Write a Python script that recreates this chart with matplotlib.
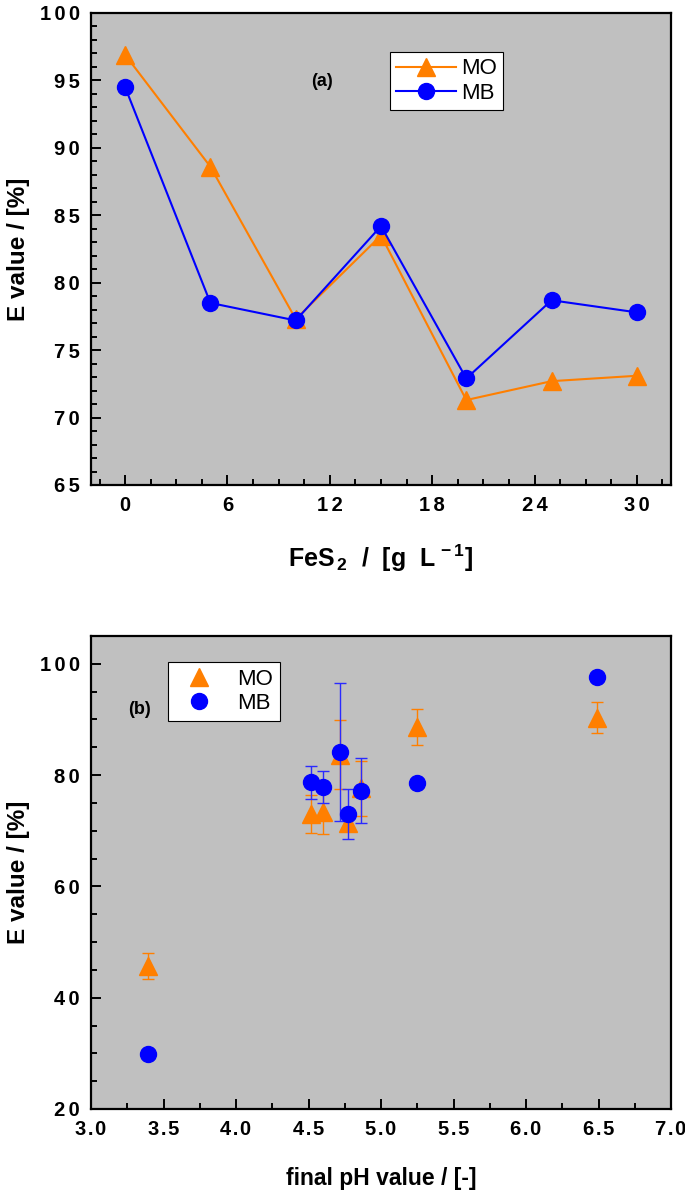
import matplotlib
matplotlib.use("Agg")
import matplotlib.pyplot as plt
from matplotlib.ticker import MultipleLocator, FuncFormatter
from matplotlib.lines import Line2D

plt.rcParams['font.family'] = ['Liberation Sans', 'DejaVu Sans']
plt.rcParams['mathtext.fontset'] = 'custom'
plt.rcParams['mathtext.rm'] = 'Liberation Sans:bold'
plt.rcParams['mathtext.bf'] = 'Liberation Sans:bold'
plt.rcParams['mathtext.it'] = 'Liberation Sans:bold'

# ---- data panel (a)
fes2 = [0, 5, 10, 15, 20, 25, 30]
mo_a = [96.9, 88.6, 77.3, 83.5, 71.3, 72.7, 73.1]
mb_a = [94.5, 78.5, 77.2, 84.2, 72.9, 78.7, 77.8]

# ---- data panel (b)
ph_mo = [3.39, 4.52, 4.60, 4.72, 4.77, 4.86, 5.25, 6.49]
mo_b = [45.7, 73.0, 73.3, 83.7, 71.4, 77.6, 88.7, 90.3]
mo_err = [2.4, 3.4, 3.8, 6.2, 1.5, 4.9, 3.2, 2.8]
ph_mb = [3.39, 4.52, 4.60, 4.72, 4.77, 4.86, 5.25, 6.49]
mb_b = [29.8, 78.7, 77.8, 84.2, 73.0, 77.2, 78.5, 97.6]
mb_err = [0.0, 3.0, 2.9, 12.4, 4.5, 5.8, 0.0, 0.0]

ORANGE = '#ff7f00'
BLUE = '#0000ff'
EBLUE = '#2a2aff'
BG = '#c0c0c0'
TS = '\u2006'


def spaced(fmt, sep=TS):
    return FuncFormatter(lambda v, p: sep.join(fmt % v))


fig = plt.figure(figsize=(6.85, 11.98), dpi=100)
W, H = 685, 1198
axa = fig.add_axes([91 / W, 1 - 485 / H, (671 - 91) / W, (485 - 13) / H])
axb = fig.add_axes([91 / W, 1 - 1109 / H, (671 - 91) / W, (1109 - 636) / H])

for ax in (axa, axb):
    ax.set_facecolor(BG)
    for s in ax.spines.values():
        s.set_linewidth(1.6)
    ax.tick_params(which='both', direction='in', top=False, right=False, width=1.4)
    ax.tick_params(which='major', length=7, pad=8, labelsize=14.5)
    ax.tick_params(which='minor', length=4)

# ---- panel (a)
axa.plot(fes2, mo_a, color=ORANGE, lw=1.5, marker='^', ms=13, label='MO', zorder=3)
axa.plot(fes2, mb_a, color=BLUE, lw=1.5, marker='o', ms=11.5, label='MB', zorder=4)
axa.set_xlim(-2, 32)
axa.set_ylim(65, 100)
axa.xaxis.set_major_locator(MultipleLocator(6))
axa.xaxis.set_minor_locator(MultipleLocator(1.5))
axa.yaxis.set_major_locator(MultipleLocator(5))
axa.yaxis.set_minor_locator(MultipleLocator(1))
axa.xaxis.set_major_formatter(spaced('%d'))
axa.yaxis.set_major_formatter(spaced('%d'))
axa.set_xlabel(r'FeS$_{\,2}$  /  [g  L$^{\,-1}$]', fontsize=18, fontweight='bold', labelpad=20)
axa.set_ylabel('E value / [%]', fontsize=17.5, fontweight='bold', labelpad=7)
axa.text(0.398, 0.854, '(a)', transform=axa.transAxes, fontsize=13, fontweight='bold',
         ha='center', va='center')
lega = axa.legend(loc='upper left', bbox_to_anchor=(0.515, 0.918), fontsize=16,
                  frameon=True, fancybox=False, edgecolor='black', framealpha=1,
                  handlelength=2.7, handletextpad=0.2, borderpad=0.3, labelspacing=0.15,
                  borderaxespad=0)
lega.get_frame().set_linewidth(0.8)

# ---- panel (b)
axb.errorbar(ph_mo, mo_b, yerr=mo_err, fmt='^', color=ORANGE, ms=13, ecolor=ORANGE,
             elinewidth=1.0, capsize=4, capthick=1.0, zorder=3)
axb.errorbar(ph_mb, mb_b, yerr=mb_err, fmt='o', color=BLUE, ms=11.5, ecolor=EBLUE,
             elinewidth=1.0, capsize=4, capthick=1.0, zorder=4)
axb.set_xlim(3.0, 7.0)
axb.set_ylim(20, 105)
axb.xaxis.set_major_locator(MultipleLocator(0.5))
axb.xaxis.set_minor_locator(MultipleLocator(0.25))
axb.yaxis.set_major_locator(MultipleLocator(20))
axb.yaxis.set_minor_locator(MultipleLocator(5))
axb.xaxis.set_major_formatter(spaced('%.1f', '\u200a'))
axb.yaxis.set_major_formatter(spaced('%d'))
axb.set_xlabel('final pH value / [-]', fontsize=16.5, fontweight='bold', labelpad=20)
axb.set_ylabel('E value / [%]', fontsize=17.5, fontweight='bold', labelpad=7)
axb.text(0.084, 0.844, '(b)', transform=axb.transAxes, fontsize=13, fontweight='bold',
         ha='center', va='center')
handles_b = [Line2D([], [], ls='none', marker='^', color=ORANGE, ms=13),
             Line2D([], [], ls='none', marker='o', color=BLUE, ms=11.5)]
legb = axb.legend(handles_b, ['MO', 'MB'], loc='upper left', bbox_to_anchor=(0.133, 0.945),
                  fontsize=16, frameon=True, fancybox=False, edgecolor='black', framealpha=1,
                  handlelength=2.2, handletextpad=0.6, borderpad=0.3, labelspacing=0.15,
                  borderaxespad=0)
legb.get_frame().set_linewidth(0.8)

for ax in (axa, axb):
    for lab in ax.get_xticklabels() + ax.get_yticklabels():
        lab.set_fontweight('bold')

fig.savefig('out.png', dpi=100)
